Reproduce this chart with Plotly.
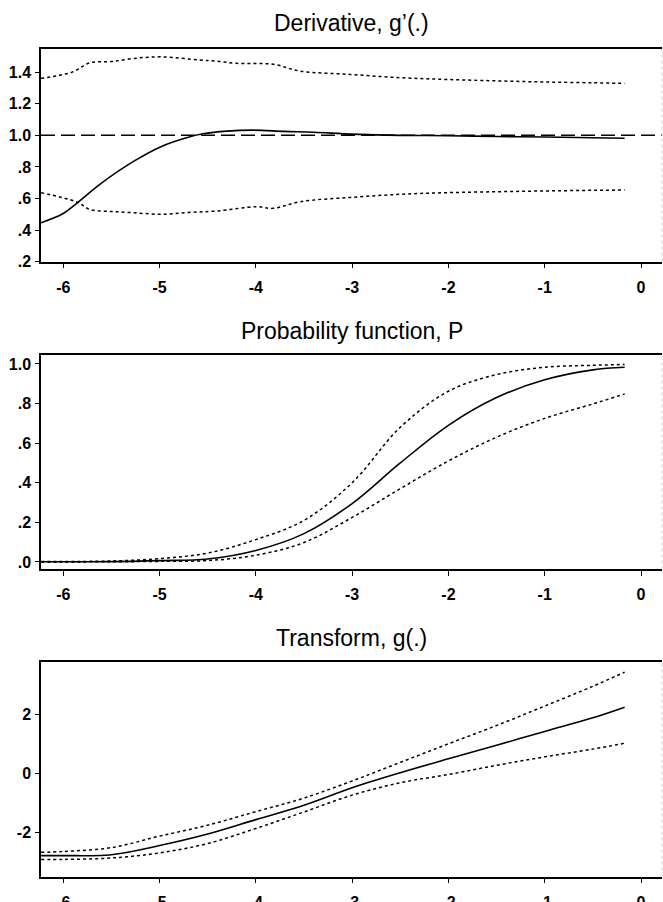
import plotly.graph_objects as go

# ---------------- data ----------------
# Panel 1: Derivative g'(.)
d_x_mid = [-6.23, -6.0, -5.86, -5.62, -5.27, -4.98, -4.72, -4.55, -4.3, -4.03, -3.7, -3.4, -3.0, -2.5, -2.0, -1.5, -1.0, -0.5, -0.17]
d_mid = [0.447, 0.505, 0.57, 0.69, 0.835, 0.93, 0.985, 1.01, 1.027, 1.033, 1.025, 1.02, 1.008, 1.0, 0.998, 0.993, 0.99, 0.985, 0.982]
d_x_up = [-6.23, -5.91, -5.72, -5.5, -5.27, -4.98, -4.58, -4.41, -4.2, -3.82, -3.54, -3.02, -2.5, -2.02, -1.5, -1.0, -0.5, -0.17]
d_up = [1.361, 1.40, 1.46, 1.467, 1.487, 1.497, 1.477, 1.47, 1.456, 1.45, 1.407, 1.386, 1.365, 1.354, 1.345, 1.338, 1.333, 1.329]
d_x_lo = [-6.23, -5.86, -5.72, -5.5, -5.27, -4.98, -4.7, -4.41, -3.99, -3.82, -3.54, -3.02, -2.5, -2.02, -1.5, -1.0, -0.5, -0.17]
d_lo = [0.637, 0.578, 0.53, 0.518, 0.51, 0.50, 0.512, 0.521, 0.548, 0.538, 0.58, 0.607, 0.627, 0.637, 0.643, 0.648, 0.652, 0.654]
d_ref_x = [-6.231, 0.218]
d_ref = [1.0, 1.0]

# Panel 2: Probability function P
p_x = [-6.23, -5.5, -5.0, -4.5, -4.0, -3.5, -3.0, -2.5, -2.0, -1.5, -1.0, -0.5, -0.17]
p_mid = [0.001, 0.002, 0.007, 0.015, 0.058, 0.143, 0.295, 0.50, 0.69, 0.83, 0.92, 0.97, 0.983]
p_up = [0.002, 0.005, 0.017, 0.045, 0.113, 0.21, 0.40, 0.68, 0.862, 0.946, 0.983, 0.993, 0.997]
p_lo = [0.000, 0.001, 0.003, 0.007, 0.034, 0.098, 0.225, 0.37, 0.51, 0.63, 0.725, 0.798, 0.848]

# Panel 3: Transform g(.)
g_x = [-6.23, -6.0, -5.5, -5.0, -4.5, -4.0, -3.5, -3.0, -2.5, -2.0, -1.5, -1.0, -0.5, -0.17]
g_up = [-2.68, -2.65, -2.52, -2.13, -1.76, -1.30, -0.84, -0.26, 0.37, 1.0, 1.62, 2.28, 2.95, 3.43]
g_mid = [-2.79, -2.79, -2.76, -2.45, -2.06, -1.57, -1.08, -0.49, 0.02, 0.49, 0.95, 1.42, 1.88, 2.24]
g_lo = [-2.92, -2.92, -2.87, -2.70, -2.38, -1.87, -1.31, -0.74, -0.32, -0.04, 0.27, 0.56, 0.82, 1.02]

titles = ["Derivative, g\u2019(.)", "Probability function, P", "Transform, g(.)"]
x_ticks = [-6, -5, -4, -3, -2, -1, 0]
x_ticktext = ["-6", "-5", "-4", "-3", "-2", "-1", "0"]
d_yticks = [0.2, 0.4, 0.6, 0.8, 1.0, 1.2, 1.4]
d_yticktext = [".2", ".4", ".6", ".8", "1.0", "1.2", "1.4"]
p_yticks = [0.0, 0.2, 0.4, 0.6, 0.8, 1.0]
p_yticktext = [".0", ".2", ".4", ".6", ".8", "1.0"]
g_yticks = [-2, 0, 2]
g_yticktext = ["-2", "0", "2"]

# ---------------- figure ----------------
W, H = 663, 902
fig = go.Figure()

solid = dict(color="black", width=1.6)
dotted = dict(color="black", width=1.5, dash="dot")
dashed = dict(color="black", width=1.5, dash="14px,6px")

def add(x, y, line, ax, shape="spline"):
    fig.add_trace(go.Scatter(x=x, y=y, mode="lines", line=dict(**line, shape=shape),
                             xaxis="x" + ax, yaxis="y" + ax, showlegend=False, hoverinfo="skip"))

add(d_ref_x, d_ref, dashed, "", shape="linear")
add(d_x_up, d_up, dotted, "")
add(d_x_lo, d_lo, dotted, "")
add(d_x_mid, d_mid, solid, "")
add(p_x, p_up, dotted, "2")
add(p_x, p_lo, dotted, "2")
add(p_x, p_mid, solid, "2")
add(g_x, g_up, dotted, "3")
add(g_x, g_lo, dotted, "3")
add(g_x, g_mid, solid, "3")

panels = [(49.3, 261.7), (355.0, 569.3), (662.3, 876.7)]
title_y = [23, 331, 638]
yranges = [[0.2, 1.545], [-0.037, 1.045], [-3.505, 3.763]]
yt = [(d_yticks, d_yticktext), (p_yticks, p_yticktext), (g_yticks, g_yticktext)]
xrange_ = [-6.231, 0.218]

font_tick = dict(family="Liberation Sans, Arial, sans-serif", size=16, color="black", weight="bold")
layout = dict(width=W, height=H, margin=dict(l=41, r=1, t=0, b=0, autoexpand=False),
              paper_bgcolor="white", plot_bgcolor="white", showlegend=False)
annotations = []
shapes = []
for i, ((top, bot), yr, (tv, tt)) in enumerate(zip(panels, yranges, yt)):
    sfx = "" if i == 0 else str(i + 1)
    dom = [(H - bot) / H, (H - top) / H]
    layout["xaxis" + sfx] = dict(domain=[0, 1], range=xrange_, anchor="y" + sfx,
                                 tickvals=x_ticks, ticktext=x_ticktext, automargin=False,
                                 showline=True, linecolor="black", linewidth=1.5, mirror=True,
                                 ticks="outside", ticklen=5, tickwidth=1.2, tickcolor="black",
                                 showgrid=False, zeroline=False, tickfont=font_tick,
                                 ticklabelstandoff=5)
    layout["yaxis" + sfx] = dict(domain=dom, range=yr, anchor="x" + sfx,
                                 tickvals=tv, ticktext=tt, automargin=False,
                                 showline=True, linecolor="black", linewidth=1.5,
                                 ticks="outside", ticklen=4, tickwidth=1.2, tickcolor="black",
                                 showgrid=False, zeroline=False, tickfont=font_tick,
                                 ticklabelstandoff=1)
    annotations.append(dict(text=titles[i], xref="paper", yref="paper", x=0.5, y=(H - title_y[i]) / H,
                            xanchor="center", yanchor="middle", showarrow=False,
                            font=dict(family="Liberation Sans, Arial, sans-serif", size=23, color="black")))
    shapes.append(dict(type="line", xref="x" + sfx + " domain", yref="y" + sfx + " domain",
                       x0=1, x1=1, y0=0, y1=1, line=dict(color="#d0d0d0", width=1, dash="dot")))

layout["annotations"] = annotations
layout["shapes"] = shapes
fig.update_layout(**layout)
fig.write_html("out.html")
